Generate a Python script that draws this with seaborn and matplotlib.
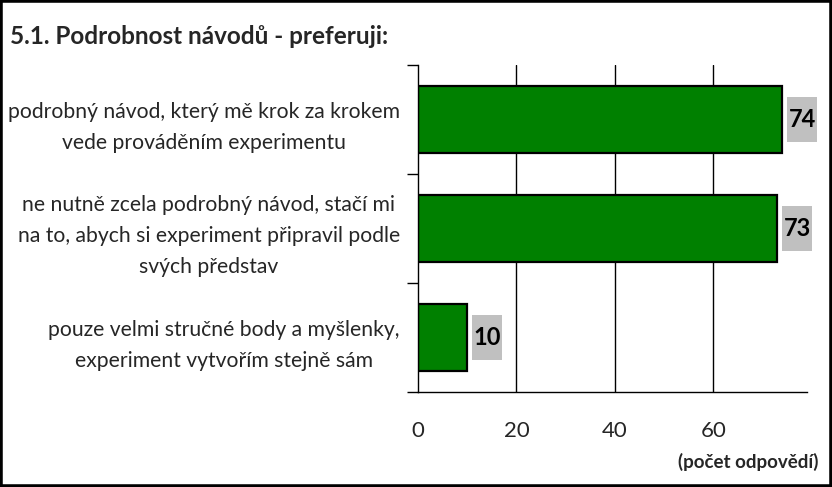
import matplotlib
matplotlib.use("Agg")
import matplotlib.pyplot as plt
import seaborn as sns
import pandas as pd
from matplotlib.patches import Rectangle

categories = [
    "podrobný návod, který mě krok za krokem\nvede prováděním experimentu",
    "ne nutně zcela podrobný návod, stačí mi\nna to, abych si experiment připravil podle\nsvých představ",
    "pouze velmi stručné body a myšlenky,\nexperiment vytvořím stejně sám",
]
values = [74, 73, 10]
xticks = [0, 20, 40, 60]
title = "5.1. Podrobnost návodů - preferuji:"
xlabel = "(počet odpovědí)"

df = pd.DataFrame({"cat": categories, "val": values})

sns.set_theme(style="white")
plt.rcParams["font.family"] = ["Lato", "DejaVu Sans"]

fig = plt.figure(figsize=(8.32, 4.87), dpi=100)
ax = fig.add_axes([418 / 832, 1 - 392 / 487, (807 - 418) / 832, (392 - 65) / 487])

sns.barplot(data=df, x="val", y="cat", orient="h", color="#008000",
            saturation=1, edgecolor="black", linewidth=1.6, width=0.615, ax=ax)

ax.set_xlim(0, 79)
ax.set_ylim(2.5, -0.5)
ax.set_xticks(xticks)
ax.set_xticklabels([str(t) for t in xticks], fontsize=16)
ax.tick_params(axis="x", direction="out", length=7, width=1, color="black", pad=14)
ax.tick_params(axis="y", length=0, pad=13, labelsize=15.2)
for lab in ax.get_yticklabels():
    lab.set_multialignment("center")
    lab.set_linespacing(1.7)
ax.set_yticks([-0.5, 0.5, 1.5, 2.5], minor=True)
ax.tick_params(axis="y", which="minor", direction="out", length=8, width=1, color="black", left=True)
ax.set_xlabel("")
ax.set_ylabel("")

for s in ["top", "right"]:
    ax.spines[s].set_visible(False)
for s in ["left", "bottom"]:
    ax.spines[s].set_color("black")
    ax.spines[s].set_linewidth(1)

for t in xticks[1:]:
    ax.axvline(t, color="black", linewidth=1, zorder=0)

for i, v in enumerate(values):
    ax.add_patch(Rectangle((v + 1, i - 0.207), 6.1, 0.414, facecolor="#c0c0c0",
                           edgecolor="none", clip_on=False, zorder=3))
    ax.text(v + 1 + 3.05, i, str(v), ha="center", va="center", fontsize=17,
            fontweight="bold", color="black", zorder=4)

fig.text(10 / 832, 1 - 37 / 487, title, fontsize=17.5, fontweight="bold",
         ha="left", va="center")
fig.text(818 / 832, 1 - 462 / 487, xlabel, fontsize=13.5, fontweight="bold",
         ha="right", va="center")

fig.add_artist(Rectangle((0, 0), 1, 1, transform=fig.transFigure, fill=False,
                         edgecolor="black", linewidth=4))

fig.savefig("out.png", dpi=100)
